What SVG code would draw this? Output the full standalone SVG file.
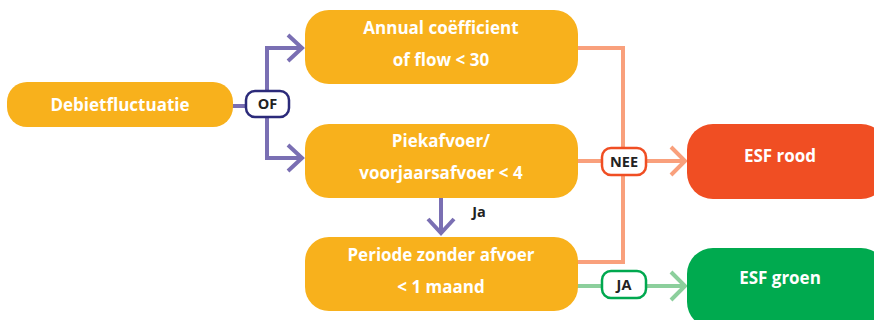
<svg xmlns="http://www.w3.org/2000/svg" width="874" height="320" viewBox="0 0 874 320">
  <style>
    .box { fill: #f8b11c; }
    .lbl { font-family: "Open Sans", "Liberation Sans", Arial, sans-serif; font-weight: bold; font-size: 17px; fill: #ffffff; text-anchor: middle; }
    .tag { font-family: "Open Sans", "Liberation Sans", Arial, sans-serif; font-weight: bold; font-size: 14.5px; fill: #222222; text-anchor: middle; }
    .purple { stroke: #7a6fb3; stroke-width: 4; fill: none; }
    .salmon { stroke: #f9a07c; stroke-width: 4; fill: none; }
    .green { stroke: #8ccf9c; stroke-width: 4; fill: none; }
  </style>
  <rect width="874" height="320" fill="#ffffff"/>

  <g id="connectors">
    <!-- branch from start node -->
    <path class="purple" d="M232 106 H248"/>
    <path class="purple" d="M267 92 V48 H302 M288 35 L302 48 L288 61"/>
    <path class="purple" d="M267 117 V158 H302 M288 145 L302 158 L288 171"/>
    <!-- Ja down arrow -->
    <path class="purple" d="M441 198 V233 M428 219 L441 233 L454 219"/>
    <!-- NEE collector -->
    <path class="salmon" d="M577 48 H623 V262 H577"/>
    <path class="salmon" d="M577 161 H685 M671 147 L685 161 L671 175"/>
    <!-- JA -->
    <path class="green" d="M577 286 H685 M671 272 L685 286 L671 300"/>
  </g>

  <g id="n-debiet">
    <rect class="box" x="7" y="82" width="226" height="45" rx="20"/>
    <text class="lbl" x="120" y="111">Debietfluctuatie</text>
  </g>

  <g id="n-of">
    <rect x="246" y="91" width="43" height="26" rx="9" fill="#ffffff" stroke="#2b2a7a" stroke-width="2.5"/>
    <text class="tag" x="267.5" y="109">OF</text>
  </g>

  <g id="n-annual">
    <rect class="box" x="305" y="10" width="273" height="74" rx="24"/>
    <text class="lbl" x="441" y="34">Annual coëfficient</text>
    <text class="lbl" x="441" y="66">of flow &lt; 30</text>
  </g>

  <g id="n-piek">
    <rect class="box" x="305" y="124" width="273" height="74" rx="24"/>
    <text class="lbl" x="441" y="147">Piekafvoer/</text>
    <text class="lbl" x="441" y="179">voorjaarsafvoer &lt; 4</text>
  </g>

  <g id="n-ja">
    <text class="tag" x="479" y="217">Ja</text>
  </g>

  <g id="n-periode">
    <rect class="box" x="305" y="237" width="273" height="74" rx="24"/>
    <text class="lbl" x="441" y="261">Periode zonder afvoer</text>
    <text class="lbl" x="441" y="293">&lt; 1 maand</text>
  </g>

  <g id="n-nee">
    <rect x="602" y="148" width="44" height="27" rx="9" fill="#ffffff" stroke="#f04e23" stroke-width="2.5"/>
    <text class="tag" x="624" y="167">NEE</text>
  </g>

  <g id="n-ja-tag">
    <rect x="602" y="271" width="44" height="27" rx="9" fill="#ffffff" stroke="#00a84f" stroke-width="2.5"/>
    <text class="tag" x="624" y="290">JA</text>
  </g>

  <g id="n-rood">
    <rect x="687" y="124" width="200" height="75" rx="26" fill="#f04e23"/>
    <text class="lbl" x="780" y="162">ESF rood</text>
  </g>

  <g id="n-groen">
    <rect x="687" y="248" width="200" height="80" rx="26" fill="#00aa4f"/>
    <text class="lbl" x="780" y="284">ESF groen</text>
  </g>
</svg>
